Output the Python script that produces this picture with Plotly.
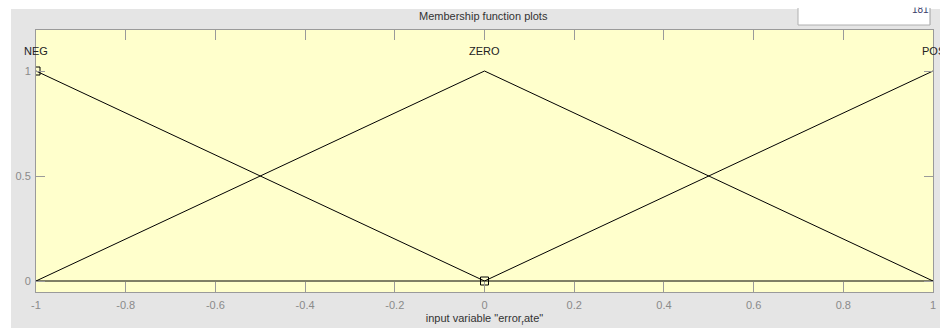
import plotly.graph_objects as go

# Membership functions of the input variable "error_rate" (triangular, range [-1, 1])
mf_names = ["NEG", "ZERO", "POS"]
mf_peaks = [-1.0, 0.0, 1.0]
neg_x = [-1.0, 0.0, 1.0]
neg_y = [1.0, 0.0, 0.0]
zero_x = [-1.0, 0.0, 1.0]
zero_y = [0.0, 1.0, 0.0]
pos_x = [-1.0, 0.0, 1.0]
pos_y = [0.0, 0.0, 1.0]
# vertices of the selected MF (NEG)
sel_x = [-1.0, 0.0]
sel_y = [1.0, 0.0]

x_ticks = [-1, -0.8, -0.6, -0.4, -0.2, 0, 0.2, 0.4, 0.6, 0.8, 1]
x_tick_text = ["-1", "-0.8", "-0.6", "-0.4", "-0.2", "0", "0.2", "0.4", "0.6", "0.8", "1"]
y_ticks = [0, 0.5, 1]
y_tick_text = ["0", "0.5", "1"]

FONT = "Liberation Sans, Arial, sans-serif"
W, H = 940, 328
L, R, T, B = 36, 7, 30, 36
PW, PH = W - L - R, H - T - B


def px(x):
    return (x - L) / PW


def py(y):
    return (H - B - y) / PH


fig = go.Figure()
line_style = dict(color="black", width=1)
for xs, ys in [(neg_x, neg_y), (zero_x, zero_y), (pos_x, pos_y)]:
    fig.add_trace(go.Scatter(x=xs, y=ys, mode="lines", line=line_style,
                             showlegend=False, hoverinfo="skip"))
fig.add_trace(go.Scatter(x=sel_x, y=sel_y, mode="markers",
                         marker=dict(symbol="square-open", size=8,
                                     color="black", line=dict(width=1)),
                         showlegend=False, hoverinfo="skip"))

# MF names above each peak
for name, peak in zip(mf_names, mf_peaks):
    fig.add_annotation(x=peak, y=1.095, xref="x", yref="y", text=name,
                       showarrow=False, font=dict(family=FONT, size=11, color="#222222"),
                       xanchor="center", yanchor="middle")

fig.add_annotation(x=px(483), y=py(16), xref="paper", yref="paper",
                   text="Membership function plots", showarrow=False,
                   font=dict(family=FONT, size=11, color="#333333"),
                   xanchor="center", yanchor="middle")

# list box entry, scrolled so only its lower part shows
fig.add_annotation(x=px(920), y=py(9.5), xref="paper", yref="paper",
                   text="181", showarrow=False,
                   font=dict(family=FONT, size=10, color="#3a3a6a"),
                   xanchor="center", yanchor="middle")
fig.add_annotation(x=px(920), y=py(8), xref="paper", yref="paper",
                   text=" ", showarrow=False, width=40, height=10,
                   bgcolor="white", borderpad=0,
                   xanchor="center", yanchor="bottom")

box_l, box_r, box_t, box_b = px(798), px(930), py(8), py(25)
shapes = [
    # grey panel
    dict(type="rect", xref="paper", yref="paper", x0=px(11), x1=px(945),
         y0=py(335), y1=py(9), fillcolor="#e5e5e5", line=dict(width=0), layer="below"),
    # axes background
    dict(type="rect", xref="paper", yref="paper", x0=0, x1=1, y0=0, y1=1,
         fillcolor="#ffffcc", line=dict(width=0), layer="below"),
    # small white list box at the top right
    dict(type="rect", xref="paper", yref="paper", x0=box_l, x1=box_r,
         y0=box_b, y1=box_t, fillcolor="white", line=dict(width=0), layer="below"),
    dict(type="line", xref="paper", yref="paper", x0=box_l, x1=box_l, y0=box_b, y1=box_t,
         line=dict(color="#b0b0b0", width=1), layer="below"),
    dict(type="line", xref="paper", yref="paper", x0=box_r, x1=box_r, y0=box_b, y1=box_t,
         line=dict(color="#a0a0a0", width=1), layer="below"),
    dict(type="line", xref="paper", yref="paper", x0=box_l, x1=box_r, y0=box_b, y1=box_b,
         line=dict(color="#b0b0b0", width=1), layer="below"),
]
fig.update_layout(shapes=shapes)

axis_common = dict(showline=True, linecolor="#9a9a9a", linewidth=1, mirror="ticks",
                   ticks="inside", tickcolor="#9a9a9a", tickwidth=1,
                   showgrid=False, zeroline=False, automargin=False,
                   tickfont=dict(family=FONT, size=11, color="#8a8a8a"))

fig.update_xaxes(range=[-1, 1], tickvals=x_ticks, ticktext=x_tick_text, ticklen=10,
                 ticklabelstandoff=3,
                 title=dict(text='input variable "error<sub>r</sub>ate"',
                            font=dict(family=FONT, size=11, color="#333333"), standoff=4),
                 **axis_common)
fig.update_yaxes(range=[-(292 - 281) / 210, 1 + (71 - 30) / 210],
                 tickvals=y_ticks, ticktext=y_tick_text, ticklen=9,
                 ticklabelstandoff=2,
                 **axis_common)

fig.update_layout(width=W, height=H, margin=dict(l=L, r=R, t=T, b=B, pad=0),
                  paper_bgcolor="white", plot_bgcolor="rgba(0,0,0,0)",
                  font=dict(family=FONT))

fig.write_html("out.html")
